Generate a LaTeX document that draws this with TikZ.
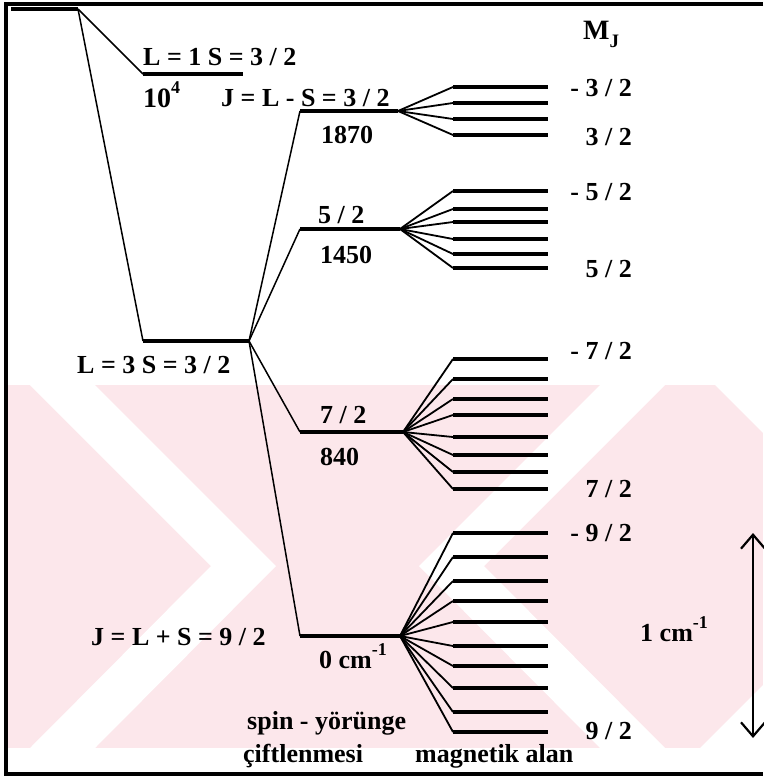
\documentclass[tikz,border=0pt]{standalone}
\usepackage{fontspec}
\setmainfont{Liberation Serif}
\usetikzlibrary{arrows.meta}
\definecolor{wmpink}{RGB}{252,231,235}
\newcommand{\up}[1]{\raisebox{0.5em}{\fontsize{18}{18}\selectfont #1}}

\begin{document}
\begin{tikzpicture}[x=1pt,y=-1pt,
  lvl/.style={line width=3.2pt},
  link/.style={line width=1.5pt},
  fanline/.style={line width=1.8pt},
  txt/.style={inner sep=0pt,font=\fontsize{26}{30}\selectfont\bfseries}]
\useasboundingbox (0,0) rectangle (763,779);

% watermark in the background
\fill[wmpink] (8,385) rectangle (763,748);
\fill[white] (30,385) -- (95,385) -- (276,566) -- (95,748) -- (30,748) -- (211,566) -- cycle;
\fill[white] (600,385) -- (665,385) -- (484,566) -- (665,748) -- (600,748) -- (419,566) -- cycle;
\fill[white] (715,385) -- (763,385) -- (763,433) -- cycle;
\fill[white] (700,748) -- (763,685) -- (763,748) -- cycle;

% frame
\coordinate (fr-tr) at (763,4);
\coordinate (fr-tl) at (6,4);
\coordinate (fr-bl) at (6,774);
\coordinate (fr-br) at (763,774);
\draw[line width=3.2pt] (fr-tr) -- (fr-tl) -- (fr-bl) -- (fr-br);

% energy levels
\coordinate (ion-l) at (11,9);   \coordinate (ion-r) at (78,9);
\coordinate (L1-l) at (143,74);  \coordinate (L1-r) at (243,74);
\coordinate (L3-l) at (143,341); \coordinate (L3-r) at (249,341);
\coordinate (J3-l) at (300,111); \coordinate (J3-r) at (398,111);
\coordinate (J5-l) at (300,229); \coordinate (J5-r) at (400,229);
\coordinate (J7-l) at (300,432); \coordinate (J7-r) at (403,432);
\coordinate (J9-l) at (300,636); \coordinate (J9-r) at (400,636);
\foreach \a in {ion,L1,L3,J3,J5,J7,J9}
  \draw[lvl] (\a-l) -- (\a-r);
\draw[link] (ion-r) -- (L1-l);
\draw[link] (ion-r) -- (L3-l);
\foreach \a in {J3,J5,J7,J9}
  \draw[link] (L3-r) -- (\a-l);

% M_J sublevels
\foreach \y [count=\i] in {87,103,119,135}{
  \coordinate (m3-\i-l) at (453,\y); \coordinate (m3-\i-r) at (548,\y);
  \draw[fanline] (J3-r) -- (m3-\i-l);
  \draw[lvl] (m3-\i-l) -- (m3-\i-r);}
\foreach \y [count=\i] in {191,209,222,239,254,268}{
  \coordinate (m5-\i-l) at (453,\y); \coordinate (m5-\i-r) at (548,\y);
  \draw[fanline] (J5-r) -- (m5-\i-l);
  \draw[lvl] (m5-\i-l) -- (m5-\i-r);}
\foreach \y [count=\i] in {359,379,399,415,437,455,472,489}{
  \coordinate (m7-\i-l) at (453,\y); \coordinate (m7-\i-r) at (548,\y);
  \draw[fanline] (J7-r) -- (m7-\i-l);
  \draw[lvl] (m7-\i-l) -- (m7-\i-r);}
\foreach \y [count=\i] in {533,557,581,601,622,646,666,688,712,732}{
  \coordinate (m9-\i-l) at (453,\y); \coordinate (m9-\i-r) at (548,\y);
  \draw[fanline] (J9-r) -- (m9-\i-l);
  \draw[lvl] (m9-\i-l) -- (m9-\i-r);}

% labels
\node[txt,anchor=base west] (t-L1) at (143,65) {L = 1 S = 3 / 2};
\node[txt,anchor=base west,font=\fontsize{28}{30}\selectfont\bfseries] (t-E1) at (143,107) {10\up{4}};
\node[txt,anchor=base west] (t-J3) at (221,106) {J = L - S = 3 / 2};
\node[txt,anchor=base west] (t-E3) at (321,143) {1870};
\node[txt,anchor=base west] (t-J5) at (318,223) {5 / 2};
\node[txt,anchor=base west] (t-E5) at (320,263) {1450};
\node[txt,anchor=base west] (t-L3) at (77,373) {L = 3 S = 3 / 2};
\node[txt,anchor=base west] (t-J7) at (320,423) {7 / 2};
\node[txt,anchor=base west] (t-E7) at (320,465) {840};
\node[txt,anchor=base west] (t-J9) at (91,645) {J = L + S = 9 / 2};
\node[txt,anchor=base west] (t-E9) at (319,668) {0 cm\up{-1}};
\node[txt,anchor=base west] (t-so1) at (247,729) {spin - yörünge};
\node[txt,anchor=base west] (t-so2) at (243,762) {çiftlenmesi};
\node[txt,anchor=base west] (t-mag) at (415,762) {magnetik alan};
\node[txt,anchor=base west,font=\fontsize{28}{30}\selectfont\bfseries] (t-MJ) at (583,39) {M\raisebox{-0.3em}{\fontsize{19}{19}\selectfont J}};

\node[txt,anchor=east] (t-m3a) at (632,88) {- 3 / 2};
\node[txt,anchor=east] (t-m3b) at (632,137) {3 / 2};
\node[txt,anchor=east] (t-m5a) at (632,192) {- 5 / 2};
\node[txt,anchor=east] (t-m5b) at (632,269) {5 / 2};
\node[txt,anchor=east] (t-m7a) at (632,351) {- 7 / 2};
\node[txt,anchor=east] (t-m7b) at (632,489) {7 / 2};
\node[txt,anchor=east] (t-m9a) at (632,533) {- 9 / 2};
\node[txt,anchor=east] (t-m9b) at (632,731) {9 / 2};

% scale bar
\coordinate (bar-t) at (753,533);
\coordinate (bar-b) at (753,738);
\draw[line width=2.2pt,{Straight Barb[length=14pt,width=24pt]}-{Straight Barb[length=14pt,width=24pt]}] (bar-t) -- (bar-b);
\node[txt,anchor=base west] (t-bar) at (640,641) {1 cm\up{-1}};
\end{tikzpicture}
\end{document}
